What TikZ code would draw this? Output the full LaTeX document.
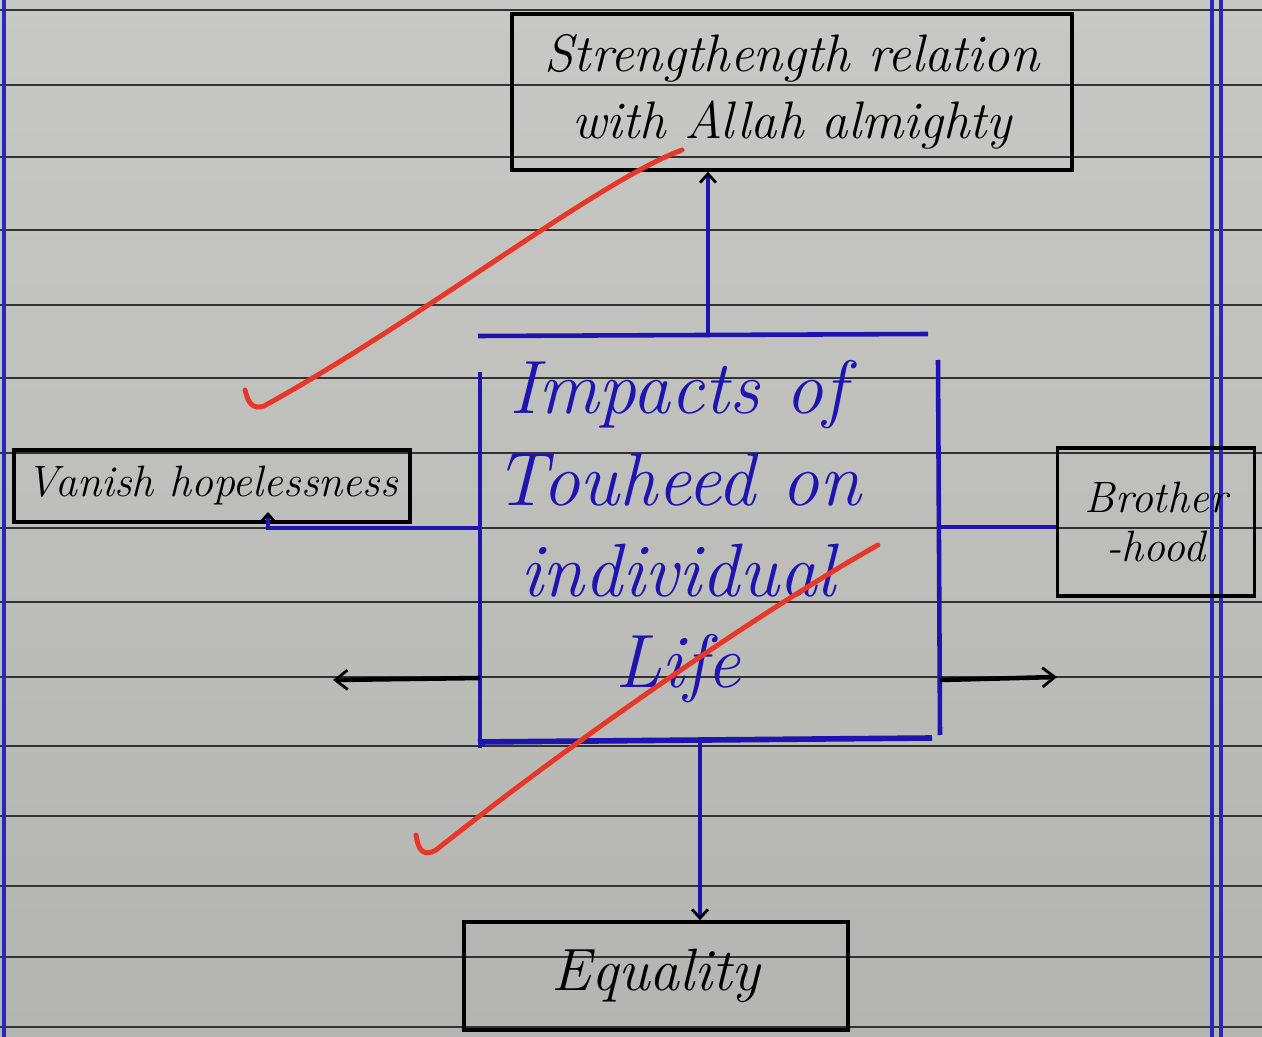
\documentclass[tikz,border=0pt]{standalone}
\usepackage{fontspec}
\setmainfont{Latin Modern Roman}
\usetikzlibrary{arrows.meta,calc}
\definecolor{paperTop}{RGB}{200,200,196}
\definecolor{paperBot}{RGB}{180,180,177}
\definecolor{ruled}{RGB}{50,50,50}
\definecolor{inkblue}{RGB}{30,20,175}
\definecolor{margin}{RGB}{40,40,190}
\definecolor{checkred}{RGB}{230,55,40}
\tikzset{
  ruleline/.style={draw=ruled, line width=0.9pt},
  marginline/.style={draw=margin, line width=1.8pt},
  inkbox/.style={draw=black, line width=2pt, rectangle, inner sep=0pt, align=center, font=\itshape},
  blueline/.style={draw=inkblue, line width=2.6pt},
  blackarrow/.style={draw=black, line width=2.6pt, -{Straight Barb[length=7pt,width=11pt,line width=1.6pt]}},
  bluearrow/.style={draw=inkblue, line width=2.2pt, -{Straight Barb[length=5pt,width=9pt,line width=1.6pt,color=black]}},
  checkmark/.style={draw=checkred, line width=2.8pt, line cap=round, line join=round},
}
\begin{document}
\begin{tikzpicture}[x=0.02cm,y=-0.02cm]
\useasboundingbox (0,0) rectangle (1262,1037);
% paper
\shade[top color=paperTop, bottom color=paperBot] (0,0) rectangle (1262,1037);
\foreach \yy in {10,85,157,230,305,378,453,528,602,677,746,816,886,957,1027}
  \draw[ruleline] (0,\yy) -- (1262,\yy);
\draw[marginline] (4,0) -- (4,1037);
\draw[marginline] (1212,0) -- (1212,1037);
\draw[marginline] (1221,0) -- (1221,1037);

% outer boxes
\node[inkbox, minimum width=11.2cm, minimum height=3.12cm, font=\itshape\fontsize{30}{38}\selectfont]
  (top) at (792,92) {Strengthength relation\\with Allah almighty};
\node[inkbox, minimum width=7.92cm, minimum height=1.44cm, font=\itshape\fontsize{25}{30}\selectfont]
  (vanish) at (212,486) {Vanish hopelessness};
\node[inkbox, minimum width=3.94cm, minimum height=2.96cm, font=\itshape\fontsize{25}{28}\selectfont]
  (brother) at (1156,522) {Brother\\-hood};
\node[inkbox, minimum width=7.68cm, minimum height=2.16cm, font=\itshape\fontsize{34}{40}\selectfont]
  (equality) at (656,976) {Equality};

% centre (open hand-drawn box)
\node[align=center, text=inkblue, font=\itshape\fontsize{43}{52}\selectfont]
  (centre) at (678,532) {Impacts of\\Touheed on\\individual\\Life};
\draw[blueline] (478,336) -- (928,334);
\draw[blueline] (480,372) -- (480,748);
\draw[blueline, line width=3.2pt] (478,742) -- (932,738);
\draw[blueline] (938,360) -- (940,735);

\coordinate (ct) at (708,335);
\coordinate (cl) at (480,528);
\coordinate (cr) at (940,527);
\coordinate (cb) at (700,740);
\coordinate (cll) at (480,678);
\coordinate (crr) at (940,680);
\coordinate (leftend) at (333,680);
\coordinate (rightend) at (1057,677);
\coordinate (vx) at (268,512);

% connectors
\draw[bluearrow] (ct) -- (ct |- top.south);
\draw[bluearrow] (cl) -| (vx);
\draw[blueline] (cr) -- (cr -| brother.west);
\draw[bluearrow] (cb) -- (cb |- equality.north);
\draw[blackarrow] (cll) -- (leftend);
\draw[blackarrow] (crr) -- (rightend);

% red check marks
\draw[checkmark] (245,390) .. controls (248,402) and (252,410) .. (264,406)
  .. controls (420,320) and (600,180) .. (682,150);
\draw[checkmark] (416,835) .. controls (418,848) and (422,858) .. (436,850)
  .. controls (600,720) and (780,600) .. (878,545);
\end{tikzpicture}
\end{document}
